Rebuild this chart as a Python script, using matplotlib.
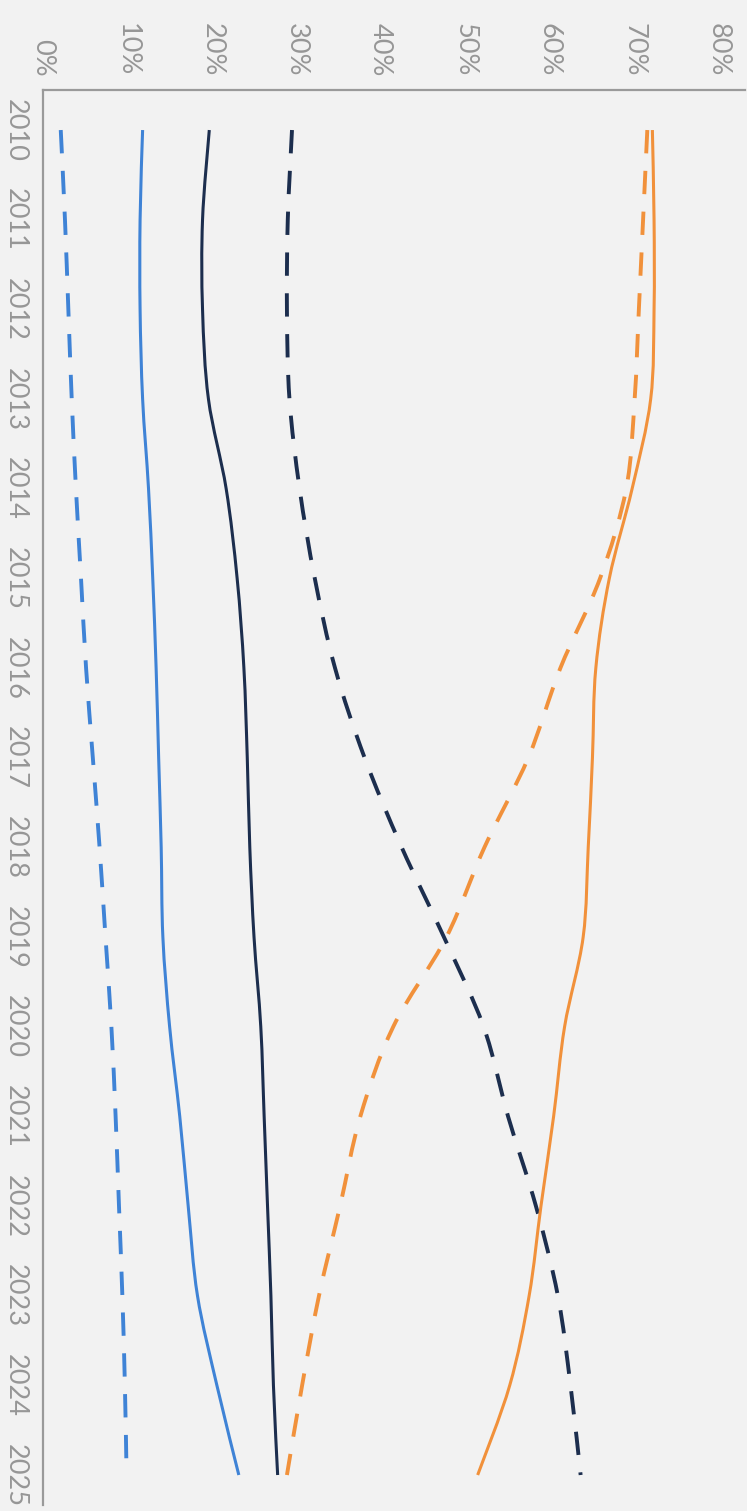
import numpy as np
import matplotlib.pyplot as plt
from matplotlib.path import Path
from matplotlib.patches import PathPatch
from matplotlib.ticker import FuncFormatter

# Yearly shares (%) for six series; chart is drawn sideways (years run downwards)
years = np.arange(2010, 2026)

light_blue_dashed = [2.1, 2.6, 3.0, 3.4, 3.9, 4.5, 5.1, 5.9, 6.7, 7.4, 8.1, 8.6, 9.0, 9.4, 9.7, 9.9]
light_blue_solid = [11.8, 11.5, 11.5, 11.8, 12.5, 13.0, 13.4, 13.7, 14.0, 14.2, 15.0, 16.2, 17.2, 18.3, 20.6, 23.2]
navy_solid = [19.7, 18.9, 18.9, 19.6, 21.7, 23.0, 23.8, 24.2, 24.5, 25.0, 25.8, 26.2, 26.6, 27.0, 27.3, 27.8]
navy_dashed = [29.5, 29.0, 28.9, 29.2, 30.4, 32.2, 34.6, 38.1, 42.5, 47.5, 52.2, 55.1, 58.4, 61.0, 62.5, 63.7]
orange_solid = [72.2, 72.4, 72.4, 72.0, 69.8, 67.1, 65.5, 65.1, 64.6, 64.0, 61.8, 60.5, 59.0, 57.6, 55.3, 51.5]
orange_dashed = [71.6, 71.1, 70.6, 70.1, 69.1, 66.0, 61.3, 57.5, 52.3, 47.8, 41.5, 37.6, 35.2, 32.7, 30.7, 28.9]

pct_ticks = [0, 10, 20, 30, 40, 50, 60, 70, 80]

BLUE = "#3f83d6"
NAVY = "#1c2e4e"
ORANGE = "#f1913b"
BG = "#f2f2f2"
GREY = "#969696"

plt.rcParams['font.family'] = ['Lato', 'DejaVu Sans']


def smooth_path(xs, ys):
    # Catmull-Rom style cubic Bezier through every data point
    pts = np.column_stack([xs, ys]).astype(float)
    ext = np.vstack([pts[0], pts, pts[-1]])
    verts = [pts[0]]
    codes = [Path.MOVETO]
    for i in range(len(pts) - 1):
        p0, p1, p2, p3 = ext[i], ext[i + 1], ext[i + 2], ext[i + 3]
        verts += [p1 + (p2 - p0) / 6, p2 - (p3 - p1) / 6, p2]
        codes += [Path.CURVE4] * 3
    return Path(verts, codes)


def draw(ax, values, color, dashed):
    lw = 2.8 if dashed else 2.2
    ls = (0, (6, 4.5)) if dashed else '-'
    patch = PathPatch(smooth_path(values, years), fill=False, edgecolor=color,
                      lw=lw, linestyle=ls, capstyle='butt')
    ax.add_patch(patch)


fig = plt.figure(figsize=(7.47, 15.11), dpi=100, facecolor=BG)
ax = fig.add_axes([0.0576, 0.004, 0.94, 0.9364])
ax.set_facecolor(BG)

draw(ax, light_blue_dashed, BLUE, True)
draw(ax, light_blue_solid, BLUE, False)
draw(ax, navy_solid, NAVY, False)
draw(ax, navy_dashed, NAVY, True)
draw(ax, orange_solid, ORANGE, False)
draw(ax, orange_dashed, ORANGE, True)

ax.set_xlim(0, 83.2)
ax.set_ylim(2025.334, 2009.554)

# percent axis along the top, year axis down the left side
ax.xaxis.tick_top()
ax.set_xticks(pct_ticks)
ax.xaxis.set_major_formatter(FuncFormatter(lambda v, _: f"{int(v)}%"))
ax.set_yticks(years)
ax.set_yticklabels([str(y) for y in years])

ax.tick_params(axis='x', length=0, pad=10, labelsize=19.5, labelcolor=GREY, labelrotation=-90)
ax.tick_params(axis='y', length=0, pad=11, labelsize=19.5, labelcolor=GREY, labelrotation=-90)
for lbl in ax.get_xticklabels():
    lbl.set_va('bottom')
    lbl.set_ha('center')
for lbl in ax.get_yticklabels():
    lbl.set_va('center')
    lbl.set_ha('right')

for side in ['right', 'bottom']:
    ax.spines[side].set_visible(False)
for side in ['left', 'top']:
    ax.spines[side].set_color("#9a9a9a")
    ax.spines[side].set_linewidth(1.6)

fig.savefig("out.png", dpi=100, facecolor=BG)
